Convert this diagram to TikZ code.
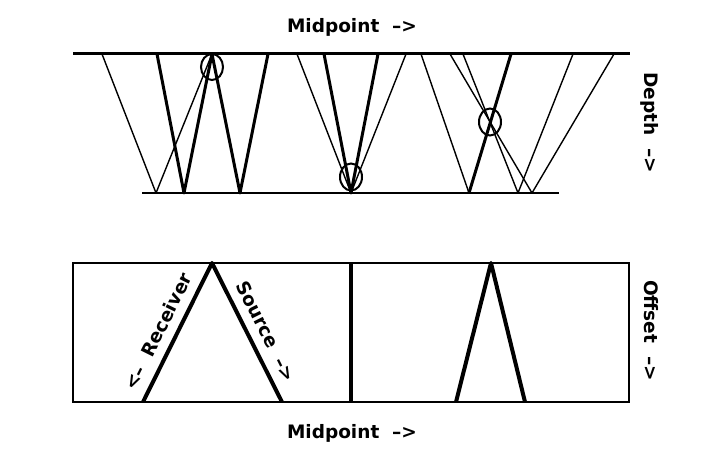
\documentclass[tikz,border=0pt]{standalone}
\usepackage{fontspec}
\setmainfont{DejaVu Sans}
\begin{document}
\begin{tikzpicture}[x=1pt,y=-1pt,
  thinray/.style={line width=1.4pt, line join=round},
  thickray/.style={line width=3pt, line join=round},
  surface/.style={line width=3pt},
  reflector/.style={line width=1.3pt},
  marker/.style={line width=2pt},
  frame/.style={line width=2pt},
  path/.style={line width=4pt, line join=round},
  lbl/.style={font=\bfseries\fontsize{18.5}{22}\selectfont, inner sep=0pt, anchor=base}]
\useasboundingbox (0,0) rectangle (726,465);
% ---- top panel
\coordinate (sL) at (73,54);  \coordinate (sR) at (630,54);
\coordinate (rL) at (142,193); \coordinate (rR) at (559,193);
\draw[surface] (sL) -- (sR);
\draw[reflector] (rL) -- (rR);
% group 1
\coordinate (a1) at (102,54); \coordinate (a2) at (156,193);
\coordinate (a3) at (212,54);
\coordinate (a4) at (157,54); \coordinate (a5) at (184,193);
\coordinate (a6) at (240,193); \coordinate (a7) at (268,54);
\draw[thinray] (a1) -- (a2) -- (a3);
\draw[thickray] (a4) -- (a5) -- (a3) -- (a6) -- (a7);
% group 2
\coordinate (b0) at (351,193);
\coordinate (b1) at (297,54); \coordinate (b2) at (406,54);
\coordinate (b3) at (324,54); \coordinate (b4) at (378,54);
\draw[thinray] (b1) -- (b0) -- (b2);
\draw[thickray] (b3) -- (b0) -- (b4);
% group 3
\coordinate (c1) at (421,54); \coordinate (c2) at (469,193);
\coordinate (c3) at (511,54);
\coordinate (c4) at (450,54); \coordinate (c5) at (532,193); \coordinate (c6) at (614,54);
\coordinate (c7) at (463,54); \coordinate (c8) at (518,193); \coordinate (c9) at (573,54);
\draw[thinray] (c1) -- (c2);
\draw[thickray] (c2) -- (c3);
\draw[thinray] (c4) -- (c5) -- (c6);
\draw[thinray] (c7) -- (c8) -- (c9);
% markers
\draw[marker] (212,67) ellipse [x radius=11, y radius=13];
\draw[marker] (351,177) ellipse [x radius=11, y radius=13.5];
\draw[marker] (490,122) ellipse [x radius=11, y radius=13.5];
% ---- bottom panel
\coordinate (fA) at (73,263); \coordinate (fB) at (629,402);
\draw[frame] (fA) rectangle (fB);
\coordinate (p1) at (143,402); \coordinate (p2) at (212,263); \coordinate (p3) at (282,402);
\coordinate (q1) at (351,263); \coordinate (q2) at (351,402);
\coordinate (s1) at (456,402); \coordinate (s2) at (491,263); \coordinate (s3) at (525,402);
\draw[path] (p1) -- (p2) -- (p3);
\draw[path] (q1) -- (q2);
\draw[path] (s1) -- (s2) -- (s3);
% ---- labels
\node[lbl] (mtop) at (352,33) {Midpoint~~-->};
\node[lbl] (mbot) at (352,438) {Midpoint~~-->};
\node[lbl, rotate=-90] (depth) at (644,123) {Depth~~-->};
\node[lbl, rotate=-90] (offset) at (644,330.5) {Offset~~-->};
\node[lbl, rotate=63.6] (recv) at (164.2,334.6) {<--~~Receiver};
\node[lbl, rotate=-63.3] (src) at (260.3,334.5) {Source~~-->};
\end{tikzpicture}
\end{document}
